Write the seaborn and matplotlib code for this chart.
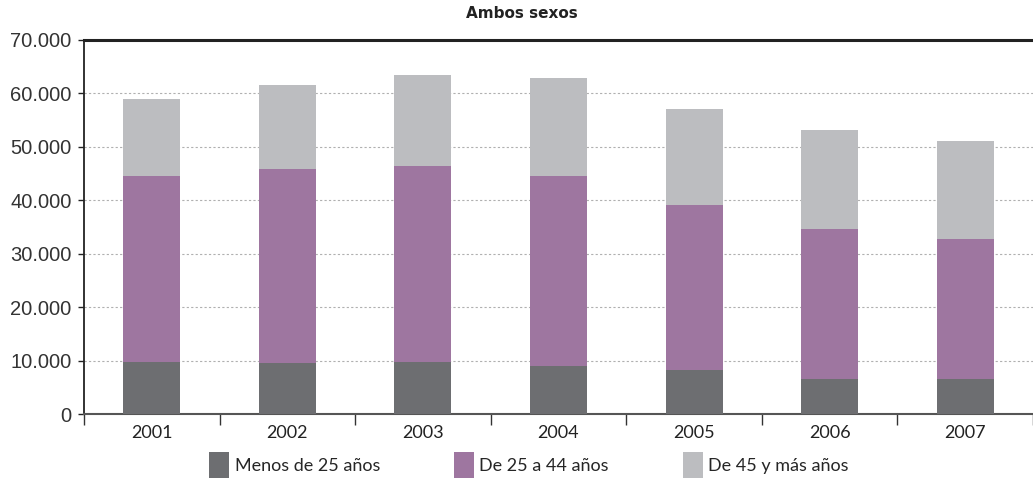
import pandas as pd
import seaborn as sns
import matplotlib.pyplot as plt
from matplotlib.patches import Patch
from matplotlib.ticker import FuncFormatter

years = ["2001", "2002", "2003", "2004", "2005", "2006", "2007"]
menos_25 = [9700, 9500, 9700, 9000, 8300, 6600, 6600]
de_25_44 = [34800, 36300, 36700, 35500, 30900, 28100, 26100]
de_45_mas = [14400, 15800, 17100, 18400, 17900, 18500, 18400]
labels = ["Menos de 25 años", "De 25 a 44 años", "De 45 y más años"]
colors = ["#6d6e71", "#9e76a0", "#bcbdc0"]

df = pd.DataFrame({"year": years, "m25": menos_25, "m44": de_25_44, "m45": de_45_mas})
df["c1"] = df["m25"]
df["c2"] = df["m25"] + df["m44"]
df["c3"] = df["c2"] + df["m45"]

sns.set_style("white")
plt.rcParams["font.family"] = ["Liberation Sans", "DejaVu Sans"]

fig = plt.figure(figsize=(10.33, 4.82), dpi=100)
ax = fig.add_axes([84 / 1033, 68 / 482, 949 / 1033, 374 / 482])

# stacked bars: draw cumulative totals from top to bottom
for col, c in zip(["c3", "c2", "c1"], colors[::-1]):
    sns.barplot(data=df, x="year", y=col, color=c, width=0.42,
                saturation=1, linewidth=0, edgecolor="none", ax=ax, zorder=3)

ax.set_ylim(0, 70000)
ax.set_xlim(-0.5, 6.43)
ax.set_yticks(range(0, 70001, 10000))
ax.yaxis.set_major_formatter(FuncFormatter(lambda v, p: f"{int(v):,}".replace(",", ".")))
for v in range(10000, 70000, 10000):
    ax.axhline(v, color="#b0b0b0", lw=0.8, ls=(0, (2, 2)), zorder=1)

ax.set_xlabel("")
ax.set_ylabel("")
ax.set_xticks(range(7))
ax.set_xticklabels(years, fontsize=13, family=["Lato", "DejaVu Sans"], color="#222222")
ax.set_xticks([i - 0.5 for i in range(8)], minor=True)
ax.tick_params(axis="x", which="major", bottom=False, length=0, pad=8)
ax.tick_params(axis="x", which="minor", bottom=True, length=8, width=1,
               color="#333333", direction="out")
ax.tick_params(axis="y", left=True, length=4, width=1, direction="out",
               labelsize=14.5, pad=5, color="#222222", labelcolor="#333333")

ax.spines["top"].set_linewidth(2.2)
ax.spines["top"].set_color("#222222")
ax.spines["left"].set_linewidth(1.3)
ax.spines["left"].set_color("#222222")
ax.spines["bottom"].set_linewidth(1.5)
ax.spines["bottom"].set_color("#555555")
ax.spines["right"].set_visible(False)

fig.text(0.505, 0.972, "Ambos sexos", ha="center", va="center",
         fontsize=11, fontweight="bold", color="#222222", family=["DejaVu Sans"])

handles = [Patch(facecolor=c, edgecolor="none") for c in colors]
fig.legend(handles, labels, loc="center", bbox_to_anchor=(0.512, 0.035),
           ncol=3, frameon=False, handlelength=1.1, handleheight=1.9,
           handletextpad=0.3, columnspacing=4.1,
           prop={"family": ["Lato", "DejaVu Sans"], "size": 13})

plt.savefig("out.png", dpi=100)
